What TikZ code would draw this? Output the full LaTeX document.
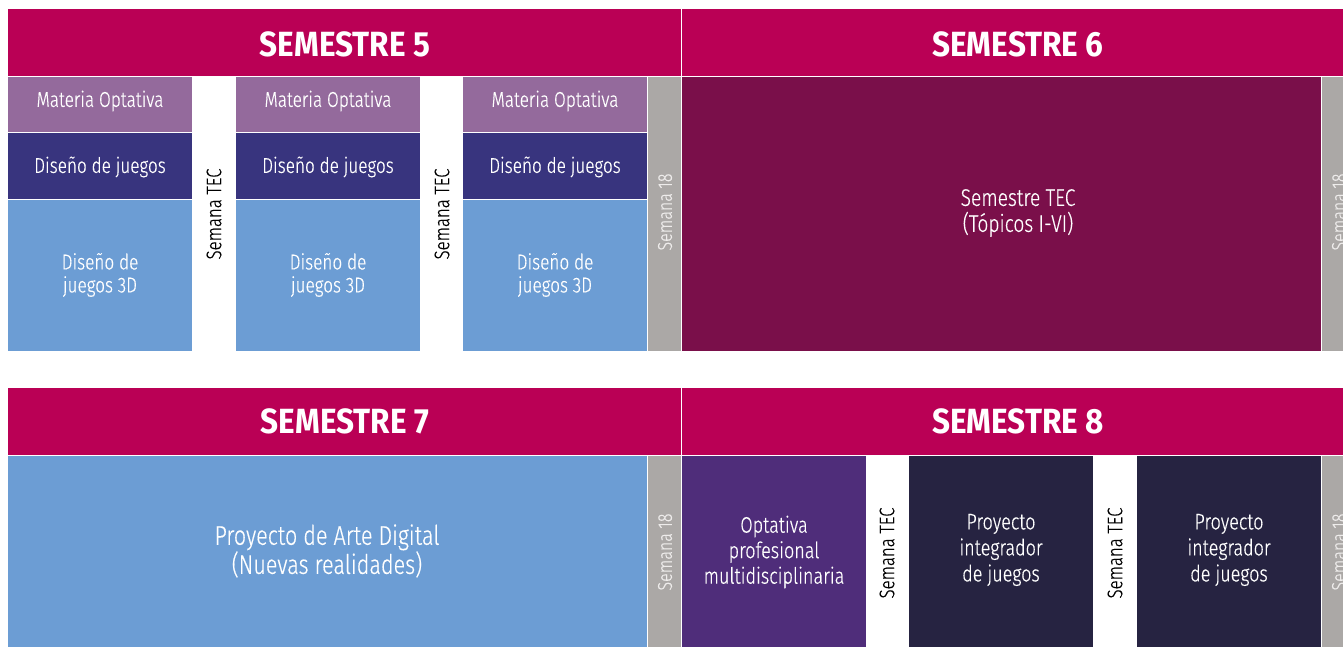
\documentclass[tikz,border=0pt]{standalone}
\usepackage{fontspec}
\newfontfamily\lightfont{Fira Sans Light}[FakeStretch=0.8,FakeBold=0.4]
\newfontfamily\headfont{Fira Sans}[FakeStretch=0.9]
\definecolor{head}{HTML}{BA0055}
\definecolor{opt}{HTML}{946A9C}
\definecolor{dis}{HTML}{38347E}
\definecolor{tres}{HTML}{6C9DD4}
\definecolor{gris}{HTML}{ABA8A6}
\definecolor{tec}{HTML}{7A0F4A}
\definecolor{prof}{HTML}{4F2D7A}
\definecolor{navy}{HTML}{262341}
\definecolor{grtext}{HTML}{EEECEB}
\tikzset{
  box/.style={rectangle, inner sep=0pt, anchor=north west, text=white, align=center, font=\lightfont\fontsize{21.5}{23}\selectfont},
  header/.style={box, fill=head},
  headtext/.style={text=white, inner sep=0pt, font=\headfont\bfseries\fontsize{35}{38}\selectfont},
  vlabel/.style={rotate=90, inner sep=0pt, font=\lightfont\fontsize{21}{22}\selectfont},
  weeklbl/.style={vlabel, text=black},
  w18lbl/.style={vlabel, text=grtext, font=\lightfont\fontsize{20}{21}\selectfont},
}
\begin{document}
\begin{tikzpicture}[x=1pt,y=-1pt]
\useasboundingbox (0,0) rectangle (1343,647);
\clip (0,0) rectangle (1343,647);
% headers
\node[header, minimum width=673pt, minimum height=67pt] (h5) at (8,9) {};
\node[header, minimum width=672pt, minimum height=67pt] (h6) at (682,9) {};
\node[headtext] (t5) at (345,44) {SEMESTRE 5};
\node[headtext] (t6) at (1018,44) {SEMESTRE 6};
% row 1 columns
\foreach \i/\x in {1/8, 2/236, 3/463} {
  \node[box, fill=opt, minimum width=184pt, minimum height=55pt] (mo\i) at (\x,77) {};
  \node[box, fill=dis, minimum width=184pt, minimum height=66pt] (dj\i) at (\x,133) {};
  \node[box, fill=tres, minimum width=184pt, minimum height=151pt] (dt\i) at (\x,200) {};
  \node[box, anchor=center] (mot\i) at (\x+92,101) {Materia Optativa};
  \node[box, anchor=center] (djt\i) at (\x+92,167) {Diseño de juegos};
  \node[box, anchor=center] (dtt\i) at (\x+92,275) {Diseño de\\juegos 3D};
}
\node[weeklbl] (st1) at (214,214) {Semana TEC};
\node[weeklbl] (st2) at (442,214) {Semana TEC};
\node[box, fill=gris, minimum width=33pt, minimum height=274pt] (g1) at (648,77) {};
\node[w18lbl] (g1t) at (665,212) {Semana 18};
\node[box, fill=tec, minimum width=639pt, minimum height=274pt] (st) at (682,77) {};
\node[box, anchor=center, font=\lightfont\fontsize{24}{26}\selectfont] (stt) at (1018,213) {Semestre TEC\\(Tópicos I-VI)};
\node[box, fill=gris, minimum width=30pt, minimum height=274pt] (g2) at (1322,77) {};
\node[w18lbl] (g2t) at (1339,212) {Semana 18};
% second row
\node[header, minimum width=673pt, minimum height=67pt] (h7) at (8,388) {};
\node[header, minimum width=672pt, minimum height=67pt] (h8) at (682,388) {};
\node[headtext] (t7) at (345,421) {SEMESTRE 7};
\node[headtext] (t8) at (1018,421) {SEMESTRE 8};
\node[box, fill=tres, minimum width=639pt, minimum height=192pt] (pa) at (8,456) {};
\node[box, anchor=center, font=\lightfont\fontsize{27}{27}\selectfont] (pat) at (327,551) {Proyecto de Arte Digital\\(Nuevas realidades)};
\node[box, fill=gris, minimum width=33pt, minimum height=192pt] (g3) at (648,456) {};
\node[w18lbl] (g3t) at (665,552) {Semana 18};
\node[box, fill=prof, minimum width=184pt, minimum height=192pt] (op) at (682,456) {};
\node[box, anchor=center, font=\lightfont\fontsize{22.5}{25.5}\selectfont] (opt) at (774,552) {Optativa\\profesional\\multidisciplinaria};
\node[weeklbl] (st3) at (887,553) {Semana TEC};
\node[box, fill=navy, minimum width=184pt, minimum height=192pt] (pi1) at (909,456) {};
\node[box, anchor=center, font=\lightfont\fontsize{22.5}{26}\selectfont] (pi1t) at (1001,550) {Proyecto\\integrador\\de juegos};
\node[weeklbl] (st4) at (1115,553) {Semana TEC};
\node[box, fill=navy, minimum width=184pt, minimum height=192pt] (pi2) at (1137,456) {};
\node[box, anchor=center, font=\lightfont\fontsize{22.5}{26}\selectfont] (pi2t) at (1229,550) {Proyecto\\integrador\\de juegos};
\node[box, fill=gris, minimum width=30pt, minimum height=192pt] (g4) at (1322,456) {};
\node[w18lbl] (g4t) at (1339,552) {Semana 18};
\end{tikzpicture}
\end{document}
